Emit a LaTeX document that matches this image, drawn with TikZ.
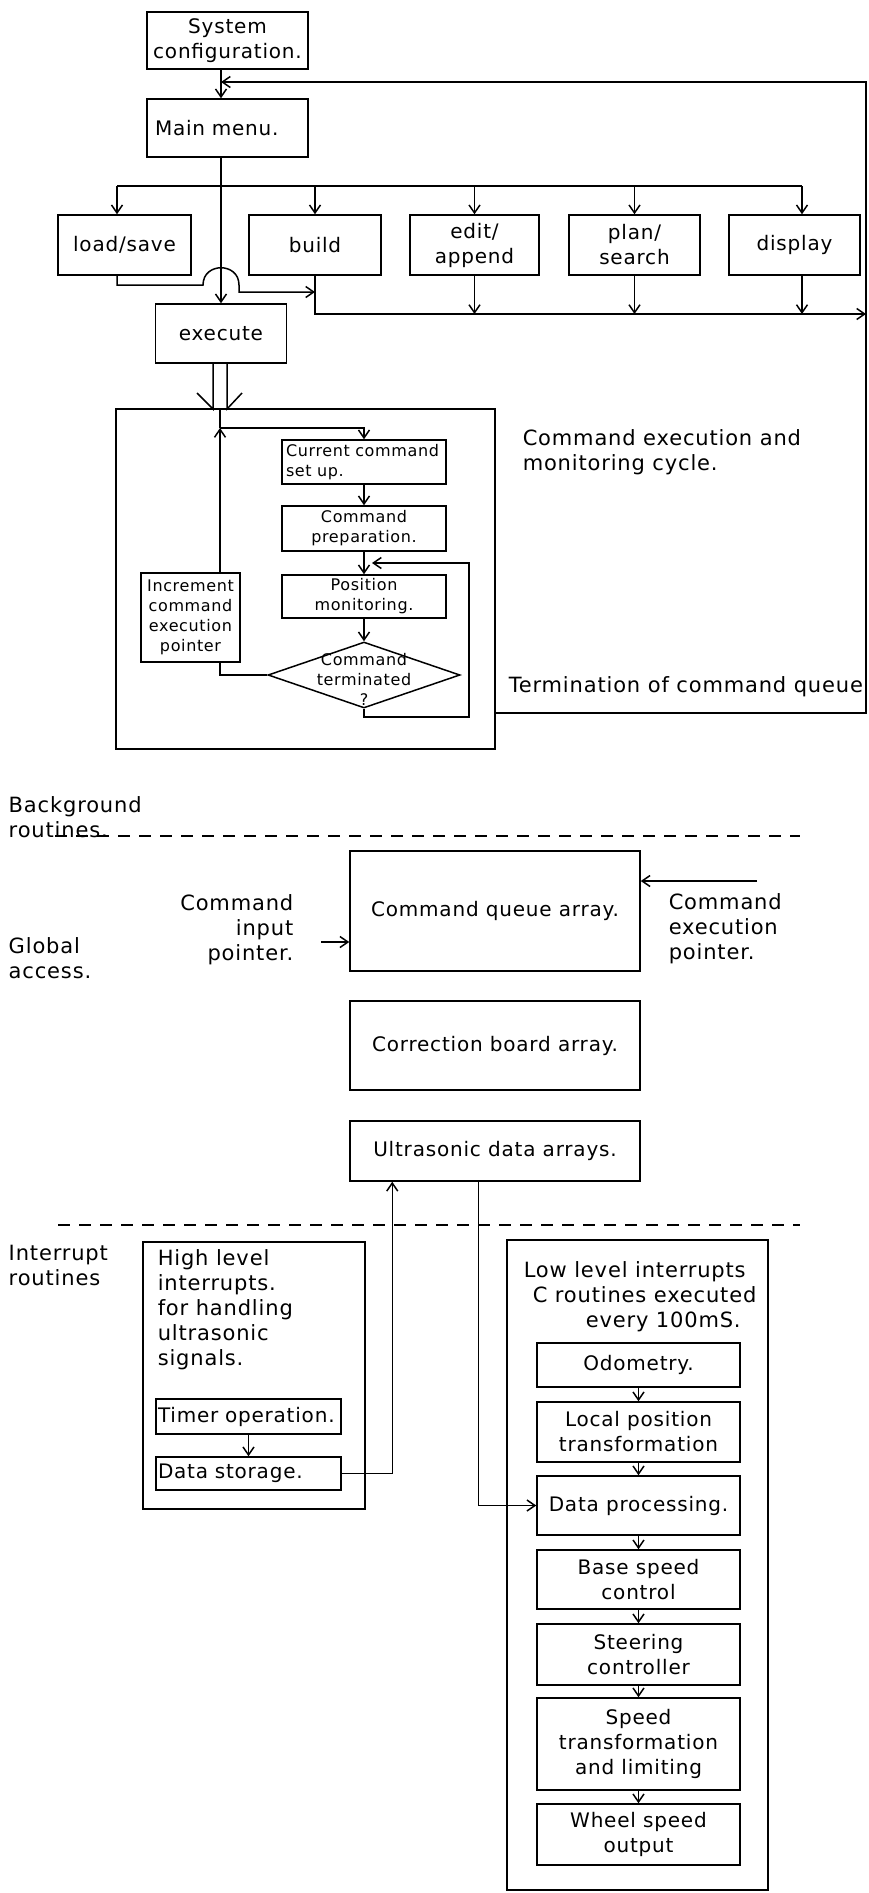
\documentclass[tikz,border=0pt]{standalone}
\usepackage{fontspec}
\setmainfont{DejaVu Sans}[LetterSpace=4]
\usepackage{tikz}
\usetikzlibrary{arrows.meta,shapes.geometric,positioning,calc}

\newcommand{\fntbox}{\fontsize{20}{25}\selectfont}
\newcommand{\fntnote}{\fontsize{21}{25}\selectfont}
\newcommand{\fntsmall}{\fontsize{16}{20}\selectfont}

\begin{document}
\begin{tikzpicture}[
x=1pt, y=-1pt, line width=1.5pt,
>={Straight Barb[length=8pt,width=11pt]},
blk/.style = {draw, rectangle, align=center, font=\fntbox, inner sep=2pt},
sblk/.style = {blk, font=\fntsmall},
note/.style = {align=left, font=\fntnote, inner sep=0pt},
divider/.style = {line width=1.3pt, dash pattern=on 12pt off 9pt}
]

\useasboundingbox (0,0) rectangle (869,1893);

% menu level
\node [blk, minimum width=161pt, minimum height=57pt] (sys) at (227.5,40.5) {System\\configuration.};
\node [blk, align=left, text width=145pt, minimum width=161pt, minimum height=58pt] (main) at (227.5,128) {Main menu.};
\node [blk, minimum width=133pt, minimum height=60pt] (ls) at (124.5,245) {load/save};
\node [blk, minimum width=132pt, minimum height=60pt] (build) at (315,245) {build};
\node [blk, minimum width=129pt, minimum height=60pt] (edit) at (474.5,245) {edit/\\append};
\node [blk, minimum width=131pt, minimum height=60pt] (plan) at (634.5,245) {plan/\\search};
\node [blk, minimum width=131pt, minimum height=60pt] (disp) at (794.5,245) {display};
\node [blk, minimum width=131pt, minimum height=59pt] (exec) at (221,333.5) {execute};

% execution cycle
\node [draw, minimum width=379pt, minimum height=340pt] (cycle) at (305.5,579) {};
\node [sblk, align=left, text width=156pt, minimum width=164pt, minimum height=44pt] (curr) at (364,462) {Current command\\set up.};
\node [sblk, minimum width=164pt, minimum height=45pt] (prep) at (364,528.5) {Command\\preparation.};
\node [sblk, minimum width=164pt, minimum height=43pt] (pos) at (364,596.5) {Position\\monitoring.};
\node [draw, diamond, inner sep=0pt, minimum width=192pt, minimum height=66pt] (term) at (364,675) {};
\node [font=\fntsmall, align=center, inner sep=0pt] (termtxt) at (364,679) {Command\\terminated\\?};
\node [sblk, minimum width=99pt, minimum height=89pt] (incr) at (190.5,617.5) {Increment\\command\\execution\\pointer};

% global access
\node [blk, minimum width=290pt, minimum height=120pt] (cq) at (495,911) {Command queue array.};
\node [blk, minimum width=290pt, minimum height=89pt] (cb) at (495,1045.5) {Correction board array.};
\node [blk, minimum width=290pt, minimum height=60pt] (us) at (495,1151) {Ultrasonic data arrays.};

% interrupts
\node [draw, minimum width=222pt, minimum height=267pt] (high) at (254,1375.5) {};
\node [blk, align=left, text width=181pt, inner sep=1pt, minimum width=185pt, minimum height=35pt] (timer) at (248.5,1416.5) {Timer operation.};
\node [blk, align=left, text width=181pt, inner sep=2pt, minimum width=185pt, minimum height=33pt] (ds) at (248.5,1473.5) {Data storage.};
\node [draw, minimum width=261pt, minimum height=650pt] (low) at (637.5,1565) {};
\node [blk, minimum width=203pt, minimum height=44pt] (odo) at (638.5,1365) {Odometry.};
\node [blk, minimum width=203pt, minimum height=60pt] (lpt) at (638.5,1432) {Local position\\transformation};
\node [blk, minimum width=203pt, minimum height=59pt] (dproc) at (638.5,1505.5) {Data processing.};
\node [blk, minimum width=203pt, minimum height=59pt] (bsc) at (638.5,1579.5) {Base speed\\control};
\node [blk, minimum width=203pt, minimum height=61pt] (steer) at (638.5,1654.5) {Steering\\controller};
\node [blk, minimum width=203pt, minimum height=92pt] (spd) at (638.5,1744) {Speed\\transformation\\and limiting};
\node [blk, minimum width=203pt, minimum height=61pt] (wheel) at (638.5,1834.5) {Wheel speed\\output};

% labels
\node [note, anchor=west] (cyclelbl) at (522,452) {Command execution and\\monitoring cycle.};
\node [note, anchor=west] (termlbl) at (508,687) {Termination of command queue};
\node [note, anchor=west] (bglbl) at (8,817) {Background\\routines.};
\node [note, anchor=west] (gllbl) at (8,958) {Global\\access.};
\node [note, anchor=east, align=right] (iplbl) at (294,929.5) {Command\\input\\pointer.};
\node [note, anchor=west] (eplbl) at (668,929) {Command\\execution\\pointer.};
\node [note, anchor=west] (irlbl) at (8,1265) {Interrupt\\routines};
\node [note, anchor=west] (hightxt) at (157,1309.5) {High level\\interrupts.\\for handling\\ultrasonic\\signals.};
\node [note, anchor=west] (lowtxt) at (523,1296.5) {Low level interrupts\\\hspace*{9pt}C routines executed\\\hspace*{62pt}every 100mS.};

% corner points
\coordinate (fb) at (866,82);
\coordinate (tq) at (866,713);
\coordinate (bl) at (117,186);
\coordinate (br) at (802,186);
\coordinate (ob) at (866,314);
\coordinate (hopL) at (203,285);
\coordinate (hopR) at (239,285);
\coordinate (hopE) at (239,292);
\coordinate (xl) at (213,409);
\coordinate (xr) at (227,409);
\coordinate (jn) at (220,428);
\coordinate (lp) at (469,717);
\coordinate (re) at (372,563);
\coordinate (ep) at (757,881);
\coordinate (ip) at (321,942);
\coordinate (d1a) at (55,836);
\coordinate (d1b) at (800,836);
\coordinate (d2a) at (58,1225);
\coordinate (d2b) at (800,1225);

% arrows
\draw[->] (sys.south -| exec.north) -- (main.north -| exec.north);
\draw[->] (cycle.east |- tq) -- (tq) -- (fb) -- (fb -| exec.north);
\draw[->] (main.south -| exec.north) -- (exec.north);
\draw (bl) -- (br);
\draw[->] (bl) -- (bl |- ls.north);
\draw[->] (build.north |- bl) -- (build.north);
\draw[->] (edit.north |- bl) -- (edit.north);
\draw[->] (plan.north |- bl) -- (plan.north);
\draw[->] (br) -- (br |- disp.north);
\draw[->] (build.south) -- (build.south |- ob) -- (ob);
\draw[->] (edit.south) -- (edit.south |- ob);
\draw[->] (plan.south) -- (plan.south |- ob);
\draw[->] (br |- disp.south) -- (br |- ob);
\draw[->] (bl |- ls.south) -- (bl |- hopL) -- (hopL) .. controls +(0,-23) and +(0,-23) .. (hopR) -- (hopE) -- (hopE -| build.south);

\draw (exec.south -| xl) -- (xl) -- ++(-16,-16);
\draw (exec.south -| xr) -- (xr) -- ++(15,-16);
\draw (cycle.north -| jn) -- (jn);
\draw[->] (incr.north -| jn) -- (jn);
\draw[->] (jn) -- (jn -| curr.north) -- (curr.north);
\draw[->] (curr) -- (prep);
\draw[->] (prep) -- (pos);
\draw[->] (pos) -- (term);
\draw (term.west) -| (incr.south -| jn);
\draw[->] (term.south) |- (lp) |- (re);

\draw[divider] (d1a) -- (d1b);
\draw[divider] (d2a) -- (d2b);
\draw[->] (ep) -- (ep -| cq.east);
\draw[->] (ip) -- (ip -| cq.west);

\draw[->] (timer) -- (ds);
\draw[->] (ds.east) -| ($(us.south west)+(43,0)$);
\draw[->] ($(us.south west)+(129,0)$) |- (dproc.west);
\draw[->] (odo) -- (lpt);
\draw[->] (lpt) -- (dproc);
\draw[->] (dproc) -- (bsc);
\draw[->] (bsc) -- (steer);
\draw[->] (steer) -- (spd);
\draw[->] (spd) -- (wheel);

\end{tikzpicture}
\end{document}
